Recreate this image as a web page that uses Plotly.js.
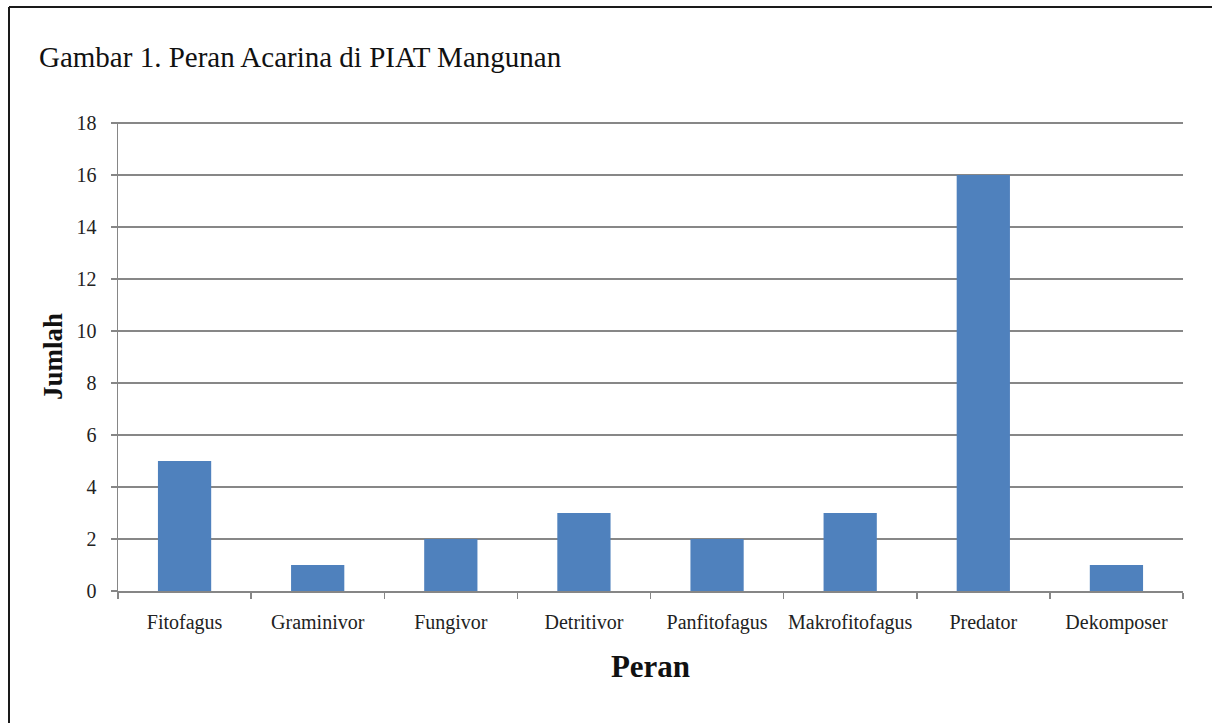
<!DOCTYPE html>
<html>
<head>
<meta charset="utf-8">
<script src="https://cdn.plot.ly/plotly-3.0.1.min.js"></script>
<style>
html,body{margin:0;padding:0;background:#fff;}
#chart{width:1212px;height:723px;}
</style>
</head>
<body>
<div id="chart"></div>
<script>
const categories = ["Fitofagus","Graminivor","Fungivor","Detritivor","Panfitofagus","Makrofitofagus","Predator","Dekomposer"];
const jumlah = [5, 1, 2, 3, 2, 3, 16, 1];
const yTicks = [0, 2, 4, 6, 8, 10, 12, 14, 16, 18];
const chartTitle = "Gambar 1. Peran Acarina di PIAT Mangunan";
const xTitle = "Peran";
const yTitle = "Jumlah";

const L = 118, R = 29, T = 122, B = 132, W = 1212, H = 723;
const pw = W - L - R, ph = H - T - B;
const px = v => (v - L) / pw;
const py = v => (H - B - v) / ph;

const serif = "Liberation Serif, Times New Roman, serif";

Plotly.newPlot("chart", [{
  type: "bar",
  x: categories,
  y: jumlah,
  marker: {color: "#4f81bd", line: {width: 0}},
  hoverinfo: "x+y"
}], {
  width: W, height: H,
  margin: {l: L, r: R, t: T, b: B, pad: 0},
  paper_bgcolor: "#fff",
  plot_bgcolor: "#fff",
  bargap: 0.6,
  showlegend: false,
  title: {
    text: chartTitle,
    font: {family: serif, size: 29, color: "#111"},
    xref: "container", yref: "container",
    x: 39 / W, xanchor: "left",
    y: 1 - 57 / H, yanchor: "middle"
  },
  xaxis: {
    type: "category",
    showline: true, linecolor: "#868686", linewidth: 1.5,
    ticks: "outside", ticklen: 6, tickcolor: "#868686", tickwidth: 1.5,
    tickson: "boundaries",
    tickangle: 0,
    showgrid: false,
    tickfont: {family: serif, size: 20, color: "#222"},
    ticklabelstandoff: 12,
    title: {text: "<b>" + xTitle + "</b>", font: {family: serif, size: 31, color: "#111"}, standoff: 23},
    fixedrange: true
  },
  yaxis: {
    range: [0, 18.04],
    tickvals: yTicks,
    showline: true, linecolor: "#868686", linewidth: 1.5,
    ticks: "outside", ticklen: 6, tickcolor: "#868686", tickwidth: 1.5,
    showgrid: true, gridcolor: "#878787", gridwidth: 1.5,
    zeroline: false,
    tickfont: {family: serif, size: 20, color: "#222"},
    ticklabelstandoff: 10,
    title: {text: "<b>" + yTitle + "</b>", font: {family: serif, size: 27, color: "#111"}, standoff: 6},
    fixedrange: true
  },
  shapes: [
    {type: "line", xref: "paper", yref: "paper", x0: px(9), x1: px(1212), y0: py(7), y1: py(7), line: {color: "#1a1a1a", width: 2}},
    {type: "line", xref: "paper", yref: "paper", x0: px(9), x1: px(9), y0: py(7), y1: py(723), line: {color: "#1a1a1a", width: 2}}
  ]
}, {displayModeBar: false, staticPlot: true});
</script>
</body>
</html>
